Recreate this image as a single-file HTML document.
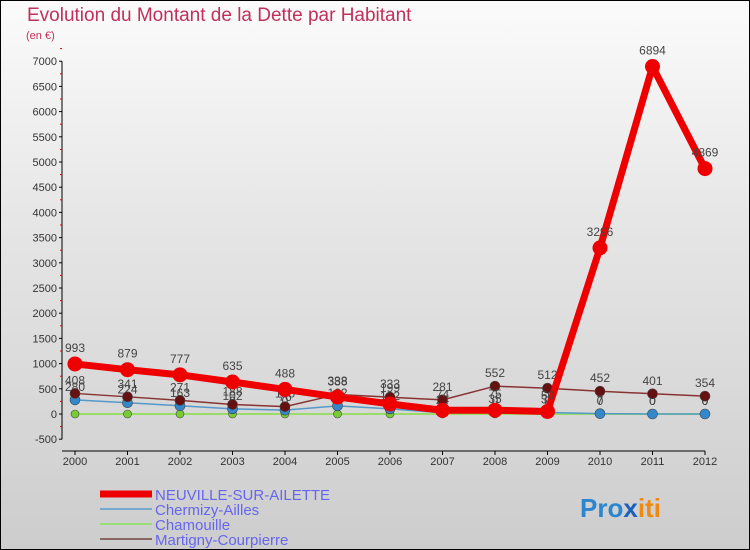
<!DOCTYPE html>
<html><head><meta charset="utf-8"><style>
body{margin:0}
#c{width:750px;height:550px;position:relative;box-sizing:border-box;border:1px solid #000;background:linear-gradient(#fbfbfb,#e6e6e6 40%,#cdcdcd);font-family:"Liberation Sans",sans-serif;overflow:hidden}
</style></head><body>
<div id="c">
<svg id="s" width="750" height="550" style="position:absolute;left:-1px;top:-1px">
<text x="27" y="21" font-size="19" fill="#c0305a">Evolution du Montant de la Dette par Habitant</text>
<text x="26" y="39" font-size="11" fill="#c0305a">(en €)</text>
</svg>
</div>
<script>
const years=[2000,2001,2002,2003,2004,2005,2006,2007,2008,2009,2010,2011,2012];
const yTicks=[-500,0,500,1000,1500,2000,2500,3000,3500,4000,4500,5000,5500,6000,6500,7000];
const neuville=[993,879,777,635,488,338,199,74,75,50,3296,6894,4869];
const chermizy=[280,224,163,102,76,162,102,24,35,31,7,0,0];
const chamouille=[0,0,0,0,0,0,0,0,0,0,0,0,0];
const martigny=[408,341,271,188,146,388,333,281,552,512,452,401,354];
const svg=document.getElementById('s');const NS='http://www.w3.org/2000/svg';
const X=i=>75+i*52.5;const Y=v=>414-v*0.0504;
function mk(t,a,p){const e=document.createElementNS(NS,t);for(const k in a)e.setAttribute(k,a[k]);(p||svg).appendChild(e);return e;}
const yax=mk('line',{x1:62,y1:Y(7000),x2:62,y2:Y(-500),stroke:'#000'});


const xax=mk('line',{x1:62,y1:451,x2:705,y2:451,stroke:'#000'});


yTicks.forEach(v=>{mk('line',{x1:59,y1:Y(v),x2:62,y2:Y(v),stroke:'#000'});
mk('line',{x1:60,y1:Y(v+250),x2:62,y2:Y(v+250),stroke:'#e00'});
const t=mk('text',{x:57,y:Y(v)+4,'font-size':11,fill:'#333','text-anchor':'end'});t.textContent=v;

});
years.forEach((y,i)=>{mk('line',{x1:X(i),y1:451,x2:X(i),y2:455,stroke:'#000'});
const t=mk('text',{x:X(i),y:465,'font-size':11,fill:'#333','text-anchor':'middle'});t.textContent=y;

});
function series(d,col,w,r,name,pc,lbl){const g=mk('g',{});


mk('polyline',{points:d.map((v,i)=>X(i)+','+Y(v)).join(' '),fill:'none',stroke:col,'stroke-width':w,'stroke-linejoin':'round'},g);
d.forEach((v,i)=>{mk('circle',{cx:X(i),cy:Y(v),r:r,fill:pc,stroke:pc==='#e00'?'#e00':'#444','stroke-width':pc==='#e00'?0:0.6},g);
const t=mk('text',{x:X(i),y:Y(v)-(lbl?12:9),'font-size':12,fill:'#444','text-anchor':'middle'},g);t.textContent=v;});}
series(chamouille,'#99dd66',2,4,'series-chamouille','#77cc33');
series(chermizy,'#5599cc',1.5,5,'series-chermizy','#3388cc');
series(martigny,'#883333',1.5,5,'series-martigny','#661111');
series(neuville,'#ee0000',7,7.5,'series-neuville','#e00',true);
const leg=[['NEUVILLE-SUR-AILETTE','#e00',7],['Chermizy-Ailles','#77aacc',2],['Chamouille','#99dd77',2],['Martigny-Courpierre','#886666',2]];
leg.forEach((l,i)=>{const y=494+i*15;
mk('line',{x1:100,y1:y,x2:152,y2:y,stroke:l[1],'stroke-width':l[2]});
const t=mk('text',{x:155,y:y+6,'font-size':15,fill:'#6666ee'});t.textContent=l[0];

});
const p=mk('text',{x:580,y:517,'font-size':26,'font-weight':'bold'});


[['Pro','#2a86d0'],['x','#1a5fc0'],['iti','#ee8a10']].forEach(a=>{const s=mk('tspan',{fill:a[1]},p);s.textContent=a[0];});
</script>
</body></html>
